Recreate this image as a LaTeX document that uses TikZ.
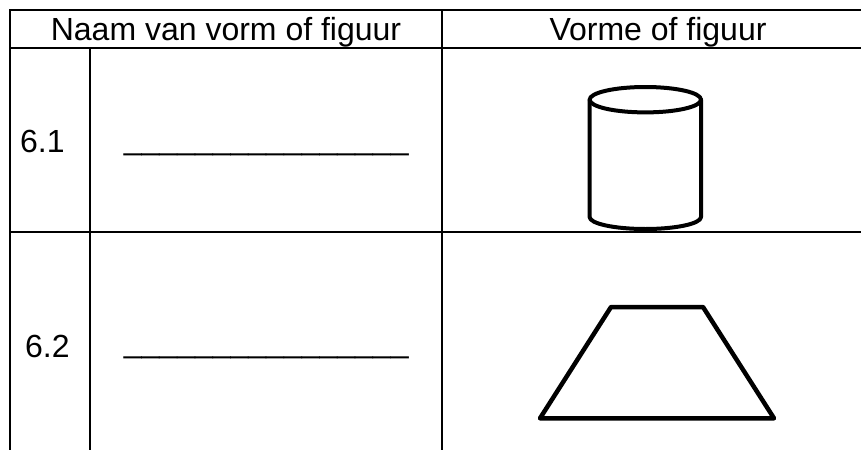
\documentclass[tikz,border=0pt]{standalone}
\usepackage{fontspec}
\setmainfont{Liberation Sans}
\begin{document}
\begin{tikzpicture}[x=1pt,y=-1pt,
  gridline/.style={line width=2pt,black},
  shapeline/.style={line width=4pt,black,line join=round,line cap=round},
  celltext/.style={inner sep=0pt,font=\fontsize{32}{38}\selectfont},
]
\fill[white] (0,0) rectangle (861,450);
\useasboundingbox (0,0) rectangle (861,450);
% grid
\coordinate (tl) at (9,10);
\coordinate (tr) at (861,10);
\coordinate (hl) at (9,47.5);
\coordinate (hr) at (861,47.5);
\coordinate (rl) at (9,232.3);
\coordinate (rr) at (861,232.3);
\coordinate (v1t) at (10,9);
\coordinate (v1b) at (10,450);
\coordinate (v2t) at (90,47.5);
\coordinate (v2b) at (90,450);
\coordinate (v3t) at (442,9);
\coordinate (v3b) at (442,450);
\draw[gridline] (tl) -- (tr);
\draw[gridline] (hl) -- (hr);
\draw[gridline] (rl) -- (rr);
\draw[gridline] (v1t) -- (v1b);
\draw[gridline] (v2t) -- (v2b);
\draw[gridline] (v3t) -- (v3b);
% header texts
\node[celltext,anchor=base] (h1) at (226,40) {Naam van vorm of figuur};
\node[celltext,anchor=base] (h2) at (658,40) {Vorme of figuur};
% row labels
\node[celltext,anchor=base west] (n1) at (20,152) {6.1};
\node[celltext,anchor=base west] (n2) at (25,357) {6.2};
% blanks
\node[celltext,anchor=base west] (b1) at (123.7,149.4) {\_\_\_\_\_\_\_\_\_\_\_\_\_\_\_\_};
\node[celltext,anchor=base west] (b2) at (123.7,352.4) {\_\_\_\_\_\_\_\_\_\_\_\_\_\_\_\_};
% cylinder
\draw[shapeline] (645.3,99.7) ellipse [x radius=55.7pt, y radius=12.7pt];
\draw[shapeline] (589.6,99.7) -- (589.6,217)
  arc[start angle=180, end angle=360, x radius=55.7pt, y radius=12pt]
  -- (701,99.7);
% trapezoid
\draw[shapeline,line width=4.5pt] (611,307) -- (703,307) -- (774,418.3) -- (540,418.3) -- cycle;
\end{tikzpicture}
\end{document}
